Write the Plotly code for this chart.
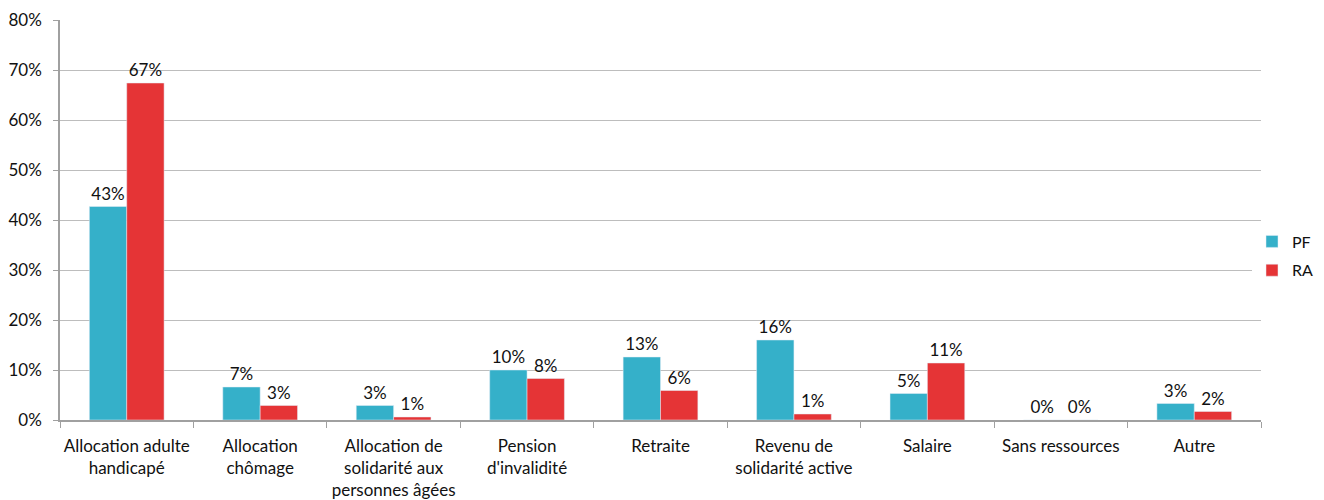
import plotly.graph_objects as go

categories = [
    "Allocation adulte<br>handicapé",
    "Allocation<br>chômage",
    "Allocation de<br>solidarité aux<br>personnes âgées",
    "Pension<br>d'invalidité",
    "Retraite",
    "Revenu de<br>solidarité active",
    "Salaire",
    "Sans ressources",
    "Autre",
]
pf = [0.427, 0.066, 0.029, 0.100, 0.126, 0.160, 0.053, 0.0, 0.033]
ra = [0.674, 0.029, 0.006, 0.083, 0.059, 0.012, 0.114, 0.0, 0.017]

FONT = "Lato, 'Open Sans', sans-serif"
SIZE = 17

fig = go.Figure()
fig.add_trace(go.Bar(
    x=categories, y=pf, name="PF", marker_color="#35B0C9", legendgroup="PF",
    texttemplate="%{y:.0%}", textposition="outside", cliponaxis=False,
    textfont=dict(size=SIZE, color="#111"),
))
fig.add_trace(go.Bar(
    x=categories, y=ra, name="RA", marker_color="#E53436", legendgroup="RA",
    texttemplate="%{y:.0%}", textposition="outside", cliponaxis=False,
    textfont=dict(size=SIZE, color="#111"),
))

# page has an 8px body margin, so the figure is 8px smaller each way
W, H = 1316, 492
L, R, T, B = 52, 0, 12, 80
paper_w = W - L - R
fig.update_layout(
    width=W, height=H,
    margin=dict(l=L, r=R, t=T, b=B, autoexpand=False),
    barmode="group", bargap=0.44, bargroupgap=0,
    plot_bgcolor="white", paper_bgcolor="white",
    font=dict(family=FONT, size=SIZE, color="#111"),
    legend=dict(x=1192 / paper_w, y=0.41, xanchor="left", yanchor="middle",
                font=dict(size=16), tracegroupgap=5, itemwidth=30),
    xaxis=dict(
        domain=[0, 1201 / paper_w], automargin=False, tickangle=0,
        showline=True, linecolor="#A0A0A0", linewidth=1.5,
        ticks="outside", tickson="boundaries", ticklen=6, tickcolor="#A0A0A0",
        ticklabelstandoff=10, tickfont=dict(size=SIZE),
    ),
    yaxis=dict(
        range=[0, 0.8], dtick=0.1, tickformat=".0%", automargin=False,
        showgrid=True, gridcolor="#BDBDBD", gridwidth=1.2,
        showline=True, linecolor="#A0A0A0", linewidth=1.5,
        ticks="outside", ticklen=5, tickcolor="#A0A0A0",
        ticklabelstandoff=8,
        zeroline=False, tickfont=dict(size=SIZE),
    ),
)
fig.write_html("out.html")
